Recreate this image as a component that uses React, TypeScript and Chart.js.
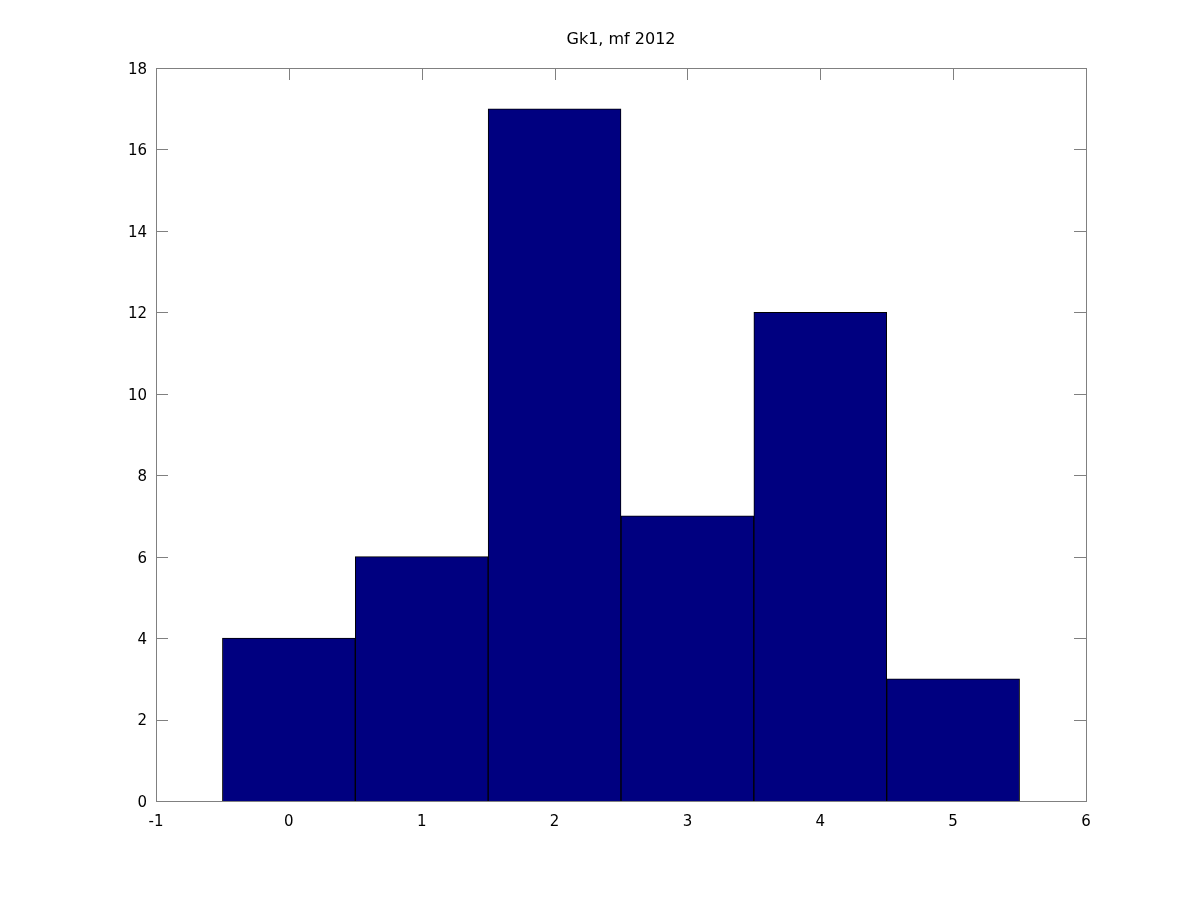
import React, { useEffect, useRef } from 'react';
import { Chart, registerables } from 'chart.js';

Chart.register(...registerables);

const titleText = 'Gk1, mf 2012';
const binCenters = [0, 1, 2, 3, 4, 5];
const counts = [4, 6, 17, 7, 12, 3];
const xMin = -1;
const xMax = 6;
const xStep = 1;
const yMin = 0;
const yMax = 18;
const yStep = 2;

const FONT = "'DejaVu Sans', sans-serif";

const framePlugin = {
  id: 'gnuFrame',
  beforeDatasetsDraw(chart: any) {
    const { ctx, chartArea, scales } = chart;
    const { left, right, top, bottom } = chartArea;
    const x = scales.x;
    const y = scales.y;
    const tl = 12;
    ctx.save();
    ctx.strokeStyle = '#808080';
    ctx.lineWidth = 1;
    ctx.beginPath();
    x.ticks.forEach((t: any) => {
      const px = Math.round(x.getPixelForValue(t.value)) + 0.5;
      ctx.moveTo(px, bottom);
      ctx.lineTo(px, bottom - tl);
      ctx.moveTo(px, top);
      ctx.lineTo(px, top + tl);
    });
    y.ticks.forEach((t: any) => {
      const py = Math.round(y.getPixelForValue(t.value)) + 0.5;
      ctx.moveTo(left, py);
      ctx.lineTo(left + tl, py);
      ctx.moveTo(right, py);
      ctx.lineTo(right - tl, py);
    });
    ctx.stroke();
    ctx.strokeRect(Math.round(left) + 0.5, Math.round(top) + 0.5, Math.round(right - left), Math.round(bottom - top));
    ctx.fillStyle = '#000';
    ctx.font = `16px ${FONT}`;
    ctx.textAlign = 'center';
    ctx.textBaseline = 'middle';
    ctx.fillText(titleText, (left + right) / 2, 40);
    ctx.restore();
  },
};

export default function App() {
  const ref = useRef<HTMLCanvasElement | null>(null);
  useEffect(() => {
    if (!ref.current) return;
    const chart = new Chart(ref.current, {
      type: 'bar',
      data: {
        datasets: [
          {
            data: binCenters.map((c, i) => ({ x: c, y: counts[i] })),
            backgroundColor: '#000080',
            borderColor: '#000000',
            borderWidth: 1,
            barPercentage: 1,
            categoryPercentage: 1,
          },
        ],
      },
      options: {
        responsive: false,
        animation: false,
        layout: { padding: { top: 68, right: 114, left: 0, bottom: 0 } },
        plugins: {
          legend: { display: false },
          title: { display: false },
          tooltip: { enabled: false },
        },
        scales: {
          x: {
            type: 'linear',
            min: xMin,
            max: xMax,
            offset: false,
            grid: { display: false, offset: false, drawTicks: false },
            border: { display: false },
            ticks: {
              stepSize: xStep,
              padding: 12,
              color: '#000',
              font: { family: FONT, size: 15 },
              maxRotation: 0,
            },
            afterFit(scale: any) {
              scale.height = 99;
            },
          },
          y: {
            type: 'linear',
            min: yMin,
            max: yMax,
            grid: { display: false, drawTicks: false },
            border: { display: false },
            ticks: {
              stepSize: yStep,
              padding: 9,
              labelOffset: 2,
              color: '#000',
              font: { family: FONT, size: 15 },
            },
            afterFit(scale: any) {
              scale.width = 156;
            },
          },
        },
      },
      plugins: [framePlugin],
    } as any);
    return () => chart.destroy();
  }, []);
  return (
    <div style={{ position: 'absolute', left: 0, top: 0, width: 1200, height: 900, background: '#fff' }}>
      <canvas ref={ref} width={1200} height={900} />
    </div>
  );
}
